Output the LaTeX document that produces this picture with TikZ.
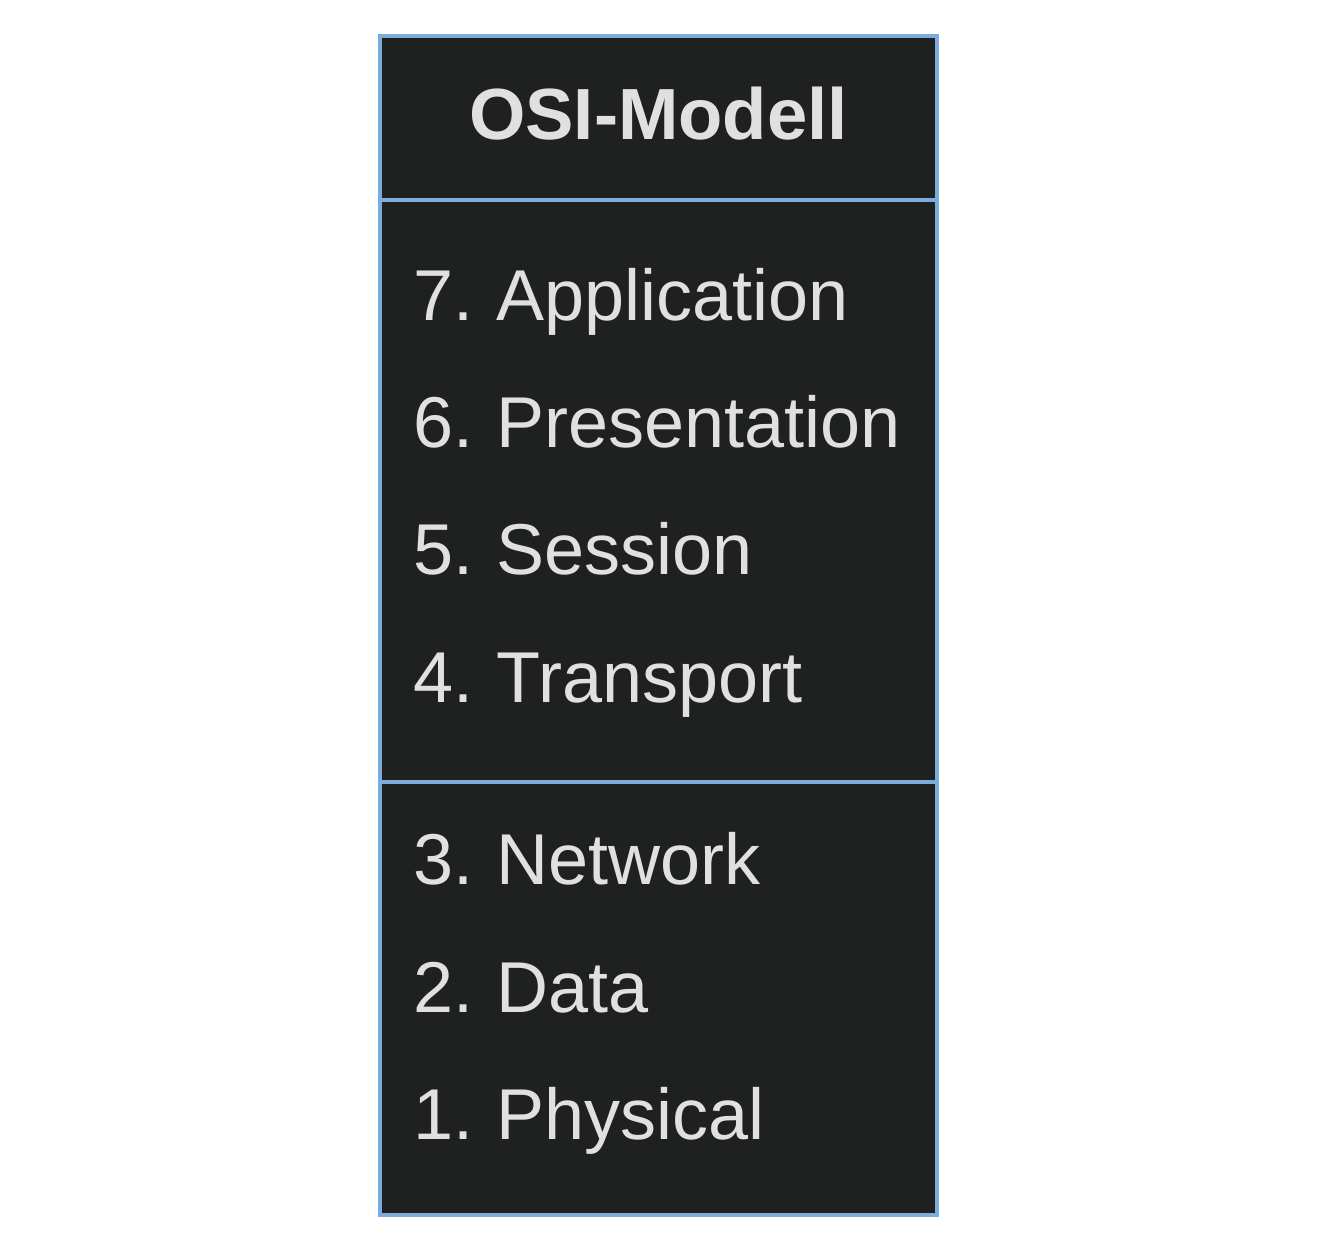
\documentclass[tikz,border=0pt]{standalone}
\usepackage{fontspec}
\setmainfont{Liberation Sans}
\frenchspacing
\definecolor{boxfill}{HTML}{1F2120}
\definecolor{boxline}{HTML}{7AADDD}
\definecolor{txt}{HTML}{E0E0E0}
\newcommand{\osiitemfont}{\fontsize{72}{86}\selectfont\spaceskip=23.5pt plus 0pt minus 0pt\relax}
\begin{document}
\begin{tikzpicture}[x=1pt,y=-1pt,
  item/.style={anchor=base west,inner sep=0pt,text=txt,font=\osiitemfont},
  title/.style={anchor=base,inner sep=0pt,text=txt,font=\fontsize{72.5}{86}\selectfont\bfseries}]
\useasboundingbox (0,0) rectangle (1317,1251);
\fill[boxfill] (380,36) rectangle (937,1215);
\node[title] (t) at (658.5,139) {OSI-Modell};
\node[item] (l7) at (413,320) {7. Application};
\node[item] (l6) at (413,447) {6. Presentation};
\node[item] (l5) at (413,574) {5. Session};
\node[item] (l4) at (413,702) {4. Transport};
\node[item] (l3) at (413,884) {3. Network};
\node[item] (l2) at (413,1012) {2. Data};
\node[item] (l1) at (413,1139) {1. Physical};
\draw[boxline,line width=4pt] (380,200) -- (937,200);
\draw[boxline,line width=4pt] (380,782) -- (937,782);
\draw[boxline,line width=4pt] (380,36) rectangle (937,1215);
\end{tikzpicture}
\end{document}
